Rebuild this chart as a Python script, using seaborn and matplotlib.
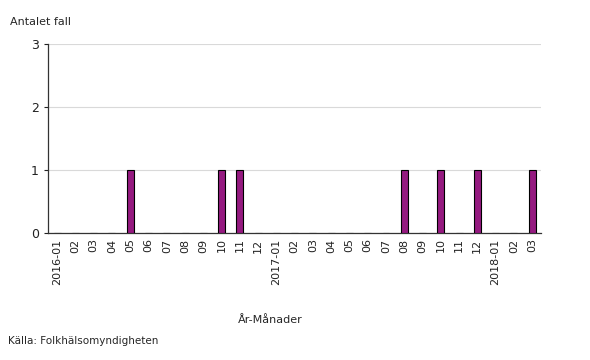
import matplotlib
matplotlib.use("Agg")
import matplotlib.pyplot as plt
import seaborn as sns
import pandas as pd

# Monthly case counts, 2016-01 .. 2018-03
months = ["2016-01", "02", "03", "04", "05", "06", "07", "08", "09", "10", "11", "12",
          "2017-01", "02", "03", "04", "05", "06", "07", "08", "09", "10", "11", "12",
          "2018-01", "02", "03"]
cases = [0, 0, 0, 0, 1, 0, 0, 0, 0, 1, 1, 0,
         0, 0, 0, 0, 0, 0, 0, 1, 0, 1, 0, 1,
         0, 0, 1]

df = pd.DataFrame({"month": range(len(months)), "cases": cases})

sns.set_style("white")
plt.rcParams["font.family"] = ["DejaVu Sans"]

fig = plt.figure(figsize=(5.9, 3.6), dpi=100)
ax = fig.add_axes([0.0814, 0.353, 0.836, 0.525])

sns.barplot(data=df, x="month", y="cases", color="#951a80", width=0.38,
            edgecolor="black", linewidth=0.8, saturation=1, ax=ax, zorder=3)

ax.set_xlim(-0.5, len(months) - 0.5)
ax.set_ylim(0, 3)
ax.set_yticks([0, 1, 2, 3])
ax.set_xticks(range(len(months)))
ax.set_xticklabels(months, rotation=90, fontsize=8, color="#222222")
ax.tick_params(axis="y", labelsize=9, length=3, direction="out", left=True, colors="#222222")
ax.tick_params(axis="x", length=0, pad=4)
ax.yaxis.grid(True, color="#d9d9d9", linewidth=0.8, zorder=0)
ax.set_axisbelow(True)

for side in ["top", "right"]:
    ax.spines[side].set_visible(False)
for side in ["left", "bottom"]:
    ax.spines[side].set_color("#333333")
    ax.spines[side].set_linewidth(0.9)

ax.set_xlabel("")
ax.set_ylabel("")

fig.text(0.017, 0.939, "Antalet fall", fontsize=8, ha="left", va="center")
fig.text(0.458, 0.111, "År-Månader", fontsize=8, ha="center", va="center")
fig.text(0.014, 0.053, "Källa: Folkhälsomyndigheten", fontsize=7.5, ha="left", va="center")

fig.savefig("out.png", dpi=100)
